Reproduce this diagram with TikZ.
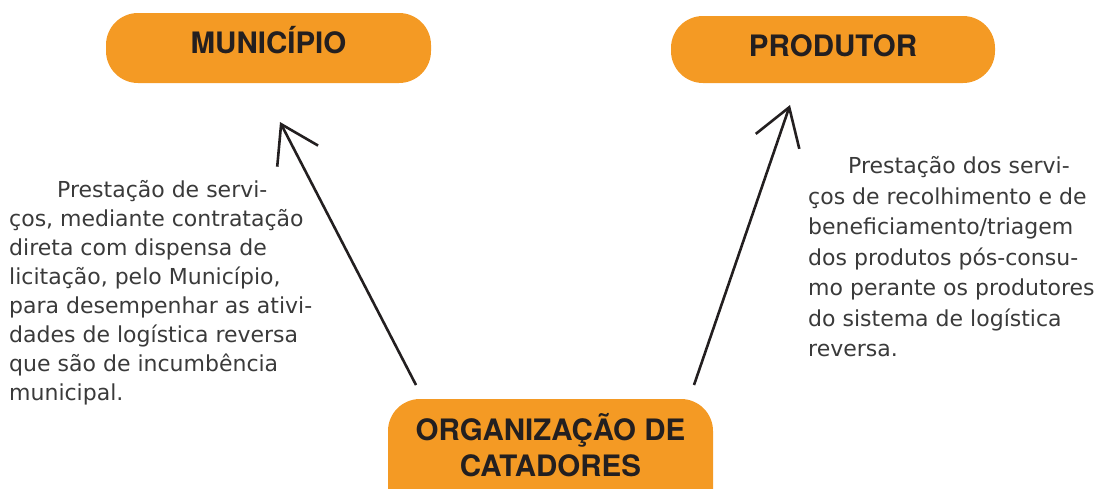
\documentclass[tikz,border=0pt]{standalone}
\usepackage{fontspec}
\setmainfont{DejaVu Sans}
\newfontfamily\headfont{TeX Gyre Heros}
\usetikzlibrary{arrows.meta}
\definecolor{boxorange}{HTML}{F49A24}
\definecolor{headtext}{HTML}{231F20}
\definecolor{bodytext}{HTML}{3A3A3A}
\begin{document}
\begin{tikzpicture}[x=1pt,y=-1pt,
  box/.style={fill=boxorange, draw=none, rounded corners=32pt, inner sep=0pt,
    font=\headfont\bfseries\fontsize{29.5}{36}\selectfont, text=headtext},
  body/.style={anchor=north west, inner sep=0pt, align=left, text=bodytext},
  link/.style={line width=2.6pt, draw=headtext, -{Straight Barb[length=36pt,width=46pt]}}]
\useasboundingbox (0,0) rectangle (1100,488);

\node[box, minimum width=325pt, minimum height=70pt, text height=24pt, text depth=14pt] (mun) at (268.5,48) {MUNICÍPIO};
\node[box, minimum width=324pt, minimum height=67pt, text height=24pt, text depth=10pt] (prod) at (833,49.5) {PRODUTOR};
\node[box, minimum width=325pt, minimum height=122pt, align=center, text height=60pt, text depth=28pt] (org) at (550.5,460) {ORGANIZAÇÃO DE\\CATADORES};

\node[body, font=\fontsize{22}{29}\selectfont] (txtL) at (9,180.5) {\hspace*{48pt}Prestação de servi-\\ços, mediante contratação\\direta com dispensa de\\licitação, pelo Município,\\para desempenhar as ativi-\\dades de logística reversa\\que são de incumbência\\municipal.};
\node[body, font=\fontsize{22}{30.5}\selectfont] (txtR) at (808,156.5) {\hspace*{40pt}Prestação dos servi-\\ços de recolhimento e de\\beneficiamento/triagem\\dos produtos pós-consu-\\mo perante os produtores\\do sistema de logística\\reversa.};

\coordinate (mT) at (280,122);
\coordinate (oL) at (416,385);
\coordinate (pT) at (790,105);
\coordinate (oR) at (694,385);
\draw[link] (oL) -- (mT);
\draw[link] (oR) -- (pT);
\end{tikzpicture}
\end{document}
